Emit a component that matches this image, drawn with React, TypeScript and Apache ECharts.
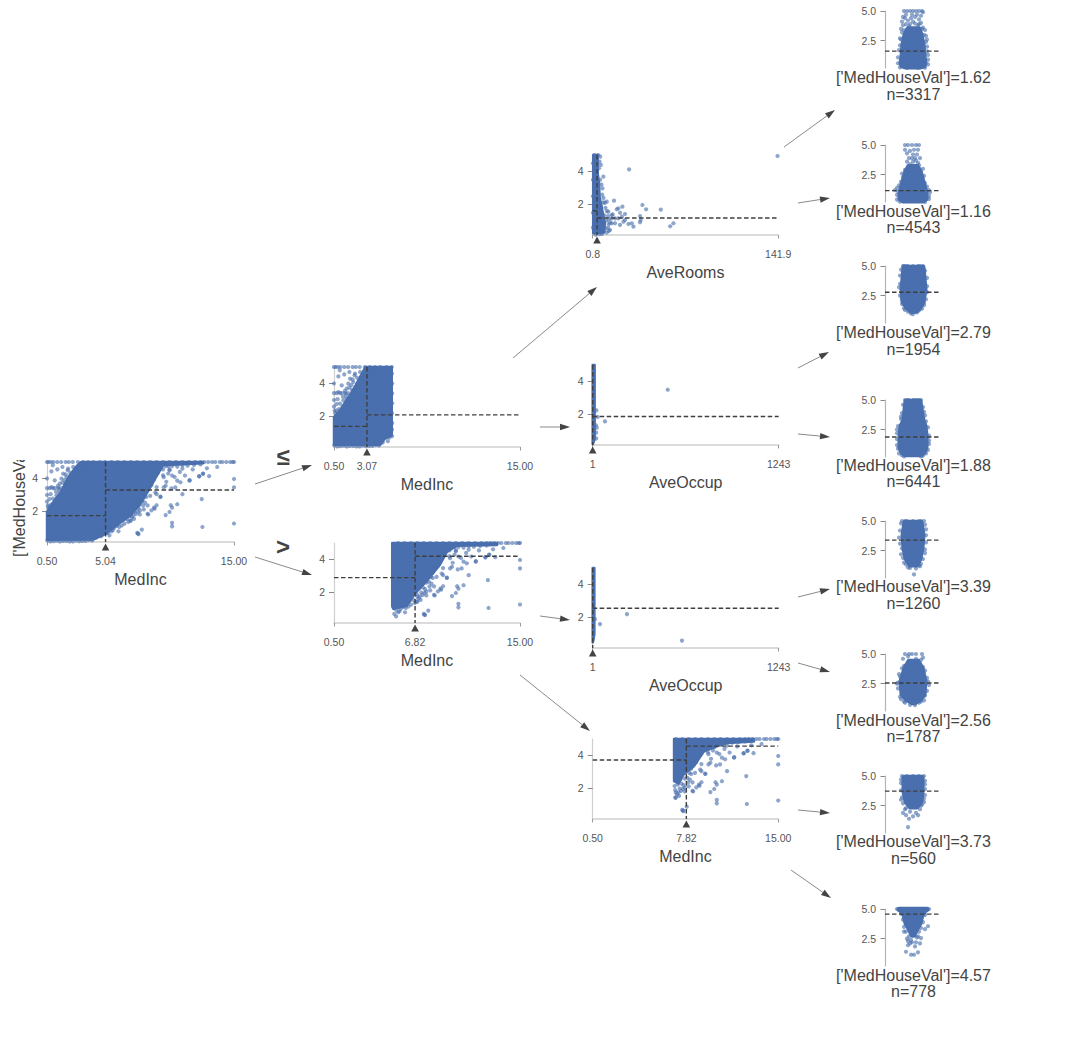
import React, { useEffect, useRef } from "react";
import * as echarts from "echarts";

const BLUE = "#4a6fae";
const DOT = "rgba(74,111,174,0.78)";
const FONT = '"Liberation Sans", Arial, sans-serif';

// ---- values ----
const topBandIncome = [0.5,0.62,0.8,1.0,1.3,1.6,1.95,2.2,2.5,2.9,3.3,3.7,4.1,4.6,5.0,5.5,6.0,6.5,7.0,7.5,8.0,8.5,9.0,9.5,10.0,10.5,11.0,11.5,12.0,12.4,12.7,13.0,13.3,13.55,13.9,14.1,14.4,14.7,14.9,15.0];
const lowIncomePoints = [[0.84,4.43],[1.75,4.29],[0.84,3.48],[1.1,3.89],[2.14,4.6],[2.53,4.7],[1.49,3.69],[1.62,3.99],[2.0,4.09],[1.23,2.98],[0.97,2.78],[0.71,2.37],[0.5,3.42],[0.71,3.42],[0.97,3.42],[1.36,3.42],[0.5,4.0],[0.5,3.0],[0.5,2.6],[0.78,3.05],[1.45,3.15],[1.9,3.6],[2.3,4.35],[2.6,4.35],[1.3,4.55],[1.7,4.7],[0.95,4.8],[2.95,4.6],[0.6,2.2],[0.9,2.45],[1.18,2.6],[1.1,3.42],[1.6,3.42]];
const upperEdgePoints = [[1.2,3.2],[1.35,3.55],[1.45,3.35],[1.7,3.75],[1.85,3.9],[1.55,3.05],[1.8,3.2],[2.05,3.5],[2.15,3.75],[2.3,3.95],[2.45,4.15],[2.65,4.1],[2.75,4.5],[2.85,4.25],[2.9,4.75],[3.05,4.85],[3.2,4.7],[2.1,4.5],[1.95,4.25],[1.2,2.3],[1.05,2.2],[0.8,2.15],[0.62,2.0],[1.4,2.7],[1.65,2.9],[0.55,2.35],[0.7,2.75],[3.25,4.45],[3.4,4.9],[3.6,4.6]];
const bottomEdgePoints = [[0.52,0.25],[0.75,0.19],[1,0.2],[1.25,0.23],[1.5,0.18],[1.75,0.22],[2,0.22],[2.25,0.19],[2.5,0.18],[2.75,0.24],[3,0.2],[3.25,0.22],[3.5,0.22],[3.75,0.27],[4,0.24],[4.45,0.7],[4.8,0.72],[5.02,0.8],[5.02,1.2],[5.04,1.6],[5.02,2.2],[5.04,2.8],[5.03,3.4],[5.04,4],[5.02,4.6]];
const lowerEdgePoints = [[5.2,0.7],[5.35,0.95],[5.5,0.8],[5.7,1.0],[6,1.25],[6.3,1.15],[6.4,1.5],[6.7,1.55],[6.95,1.9],[7.1,1.65],[7.3,2.0],[7.45,2.3],[7.7,2.6],[7.9,2.65],[8.05,2.95],[8.2,3.2],[8.4,3.45],[8.6,3.6],[8.75,3.9],[8.9,4.15],[9.1,4.35],[9.3,4.6],[9.5,4.55],[9.7,4.75],[9.9,4.75],[10.2,4.75],[10.6,4.72],[11,4.8],[11.4,4.78],[11.9,4.82],[12.4,4.85],[6.9,2.15],[7.0,1.75],[7.25,1.55],[7.4,1.85],[7.15,2.25],[7.6,2.2],[7.35,2.55],[6.95,1.45]];
const fringePoints = [[4.3,0.42],[4.7,0.5],[5.34,0.55],[6.04,0.8],[5.6,0.86],[6.1,1.06],[6.5,1.26],[6.8,1.36],[7.2,1.77],[7.55,1.97],[7.95,2.37],[8.3,2.37],[8.6,2.07],[8.85,2.17],[8.2,2.88],[9.0,3.48],[9.3,2.88],[9.5,4.2],[9.75,3.8],[9.9,4.3],[10.0,4.5],[10.4,4.09],[10.8,4.4],[11.0,4.6],[11.56,3.9],[12.3,4.13],[12.6,4.3],[7.5,0.7],[7.55,0.66],[5.9,1.12],[7.0,1.45],[7.7,2.05]];
const highIncomePoints = [[10.2,1.31],[10.2,1.1],[12.55,1.06],[15,1.27],[12.5,2.75],[15,3.46],[15,3.97],[11,3.05],[9.3,2.9],[10.6,2.44],[10.1,2.38],[10.2,2.23],[10,1.97],[9.7,1.78],[9,2.38],[8.8,2.23],[8.3,1.86],[8.35,1.82],[7.6,0.63],[7.85,0.9],[12.3,4.14],[12.6,4.28],[11.55,3.87],[10.85,3.77],[10.45,3.46],[10.15,3.4],[9.7,3.56],[9.55,3.46],[9,3.05],[8.5,2.95],[8.1,2.54],[8,2.13],[7.7,1.82],[8.9,3.15],[10.6,3.87],[9.55,4.08],[10.2,4.18],[11.2,4.18],[13.07,4.14],[10.0,4.55],[9.2,4.55],[11.8,4.55],[12.9,4.62],[13.7,4.7]];
const rootOutline = [[0.5,0.28],[4.07,0.3],[5.1,0.66],[5.88,1.16],[6.9,1.72],[7.7,2.4],[8.46,3.4],[9,4.15],[9.5,4.8],[12.6,4.92],[12.6,5],[3.16,5],[2.77,4.72],[2.26,4.2],[1.9,3.7],[1.6,3.2],[1.1,2.7],[0.5,1.97]];
const lowNodeOutline = [[0.5,0.28],[4.1,0.28],[4.48,0.66],[5.0,0.85],[5.0,5],[2.95,5],[2.6,4.5],[2.2,3.9],[1.75,3.3],[1.4,2.9],[1.0,2.4],[0.5,1.95]];
const highNodeOutline = [[5.04,5],[5.04,1.15],[5.13,1.0],[5.5,1.08],[6.17,1.2],[6.82,1.95],[7.73,2.7],[8.25,3.2],[8.77,3.7],[9.29,4.45],[10.07,4.84],[13.2,4.88],[13.2,5]];
const richNodeOutline = [[6.86,5],[6.86,2.45],[7.2,2.3],[7.6,2.85],[8.4,3.35],[9.2,4.25],[10.2,4.55],[11,4.75],[13.1,4.85],[13.1,5]];
const roomsOutline = [[1.2,5],[4.6,5],[4.6,3.89],[5.6,3.28],[6,2.48],[8,1.67],[10,0.86],[9.5,0.3],[1.2,0.25]];
const roomsPoints = [[28.5,4.13],[141.4,4.94],[52.6,1.69],[38.6,1.97],[41.4,1.71],[36.8,1.3],[37.3,1.06],[36.8,0.92],[62.2,0.86],[59.7,0.68],[31.8,0.66],[30.5,0.86],[28,0.82],[25.4,1.06],[24.2,0.96],[21.6,0.76],[17.8,0.86],[15.3,0.86],[23.4,1.87],[20.3,1.77],[19.1,1.71],[21.6,1.5],[25.4,1.42],[23,1.26],[17,2.23],[11.5,2.17],[8.9,2.13],[12.7,1.57],[15.3,1.36],[17.8,1.16],[20.3,1.16],[14,0.45],[11.5,0.3],[8.9,3.69],[8.2,2.98],[6.5,4.9],[7,4.4],[6,4.6],[6.5,3.5],[7.5,3.2],[8,2.6],[9,2.4],[10,2.1],[10.5,1.8],[11.5,1.6],[12.5,1.3],[13,1.1],[13,0.8],[12.5,0.6],[13,0.4],[14,0.9],[15,1.15],[16,1.4],[4,4.6],[5.6,4.2],[3,4.8],[5,5],[2,5],[1,4.5],[1,3.5],[1,2.5],[1,1.5],[1,0.6],[7,1.9],[9.5,1.35],[11,1.0],[10.5,0.55],[6,0.2],[3,0.17],[8,0.22]];
const occupLowOutline = [[1,5],[14,5],[14,0.5],[1,0.2]];
const occupLowPoints = [[502,3.5],[83,1.58],[34,1.85],[26,2.25],[22,1.35],[28,1.2],[24,0.9],[24,0.55]];
const occupHighOutline = [[1,5],[12,5],[12,1.0],[5,0.6],[1,0.5]];
const occupHighPoints = [[50,1.6],[230,2.2],[597,0.6],[16,1.9]];

const leafMeans = [1.62,1.16,2.79,1.88,3.39,2.56,3.73,4.57];
const leafCounts = [3317,4543,1954,6441,1260,1787,560,778];
const leafProfiles = [
  [[3.5,-5,6],[3.0,-8,8],[2.2,-10,10],[1.2,-11,11],[0.6,-12,12],[0.38,-11,11],[0.28,-7,7]],
  [[3.2,-4,4],[2.8,-7,7],[2.2,-9,9],[1.6,-11,11],[0.9,-13,13],[0.45,-13,13],[0.28,-10,10]],
  [[4.9,-9,10],[4,-10,11],[3,-11,12],[2,-10,10],[1.5,-6,7],[1.2,-2,3]],
  [[4.9,-7,7],[4.2,-8,8],[3.3,-9,10],[2.8,-12,12],[2,-13,13],[1,-13,13],[0.6,-11,11],[0.4,-8,8]],
  [[4.9,-8,8],[3.8,-10,10],[2.7,-9,9],[1.85,-7,7],[1.3,-3,4]],
  [[4.4,-4,5],[3.8,-8,9],[2.7,-12,12],[1.6,-11,11],[1.15,-6,7],[0.9,-1,2]],
  [[4.9,-9,9],[3.7,-9,9],[2.85,-7,8],[2.4,-3,4]],
  [[4.97,-14,14],[4.85,-12,12],[4.5,-9,9],[3.8,-7,7],[3.2,-3,3],[2.8,-1,1]],
];
const leafPoints = [
  [[-9,5],[-6,5],[-3,5],[0,5],[3,5],[6,5],[9,5],[10,4.9],[-7,4.7],[-1,4.7],[4,4.7],[8,4.6],[-8,4.4],[-2,4.4],[2,4.5],[6,4.3],[-11,4.1],[-5,4.2],[0,4.1],[8,4],[-10,3.8],[-3,3.9],[5,3.8],[10,3.6],[-12,3.5],[12,3.4],[-13,2.7],[13,2.4],[14,2],[15,1.3],[-7,3.9],[6,3.9],[-9,3.4],[9,3.5],[-11,3.2],[11,3],[-12,2.6],[13,2.9],[-13,2.1],[14,2.6],[-14,1.7],[14,1.6],[-15,1.1],[15,0.9],[-15,0.6],[15,0.5],[-13,0.25],[12,0.22],[-6,0.2],[5,0.2],[2,3.95],[-4,3.7],[-10,4.5]],
  [[-8,5],[-5,5],[-1,5],[3,5],[6,5],[-8,4.6],[-3,4.5],[1,4.6],[5,4.6],[-6,4.3],[0,4.2],[4,4.2],[-4,3.9],[-1,3.9],[2,3.9],[7,3.9],[-6,3.6],[0,3.6],[5,3.5],[-16,1.4],[-18,1.2],[17,1],[10,3],[-11,2.6],[-5,3.2],[6,3.3],[-8,2.9],[8,2.7],[-10,2.3],[11,2.4],[-12,1.9],[12,1.8],[-14,1.6],[14,1.5],[-15,1.1],[16,1.2],[-16,0.8],[16,0.7],[-16,0.4],[16,0.45],[-13,0.22],[12,0.2],[-3,3.4],[3,3.7]],
  [[-10,5],[-5,5],[0,5],[5,5],[10,5],[-13,3.5],[14,3.3],[-11,2.2],[11,1.9],[-8,1.3],[6,1.25],[0,0.95],[-9,5],[-12,4.7],[12,4.6],[-13,4.2],[14,4],[-14,3.2],[14,2.8],[-13,2.5],[13,2.2],[-11,1.8],[11,1.7],[-9,1.45],[9,1.4],[-5,1.15],[4,1.1],[-2,1],[7,5],[-7,5]],
  [[-8,5],[-4,5],[0,5],[4,5],[8,5],[-12,3.6],[12,3.7],[-16,2.2],[16,2],[-16,1.2],[16,1.3],[-11,0.35],[10,0.32],[-10,4.6],[10,4.4],[-11,3.9],[11,4],[-12,3.4],[13,3.2],[-15,2.8],[15,2.7],[-16,2.5],[-16,1.7],[16,1.6],[-15,0.9],[15,0.8],[-14,0.5],[13,0.5],[-9,0.25],[8,0.25],[-6,5],[6,5],[2,5]],
  [[-11,5],[-6,5],[0,5],[6,5],[11,5],[-14,3.6],[13,3.8],[-12,2.2],[12,2.3],[-9,1.5],[8,1.4],[-5,1.1],[3,1],[7,1.2],[1,0.5],[-12,4.8],[12,4.7],[-13,4.2],[13,4.3],[-13,3.1],[13,3.2],[-11,2.7],[12,2.6],[-10,1.9],[10,1.8],[-7,1.35],[6,1.25],[-3,1.05],[-8,5],[8,5]],
  [[-8,5],[-4,5],[-1,5],[3,5],[9,5],[10,4.7],[-5,4.8],[3,4.6],[-14,3.3],[-9,4],[10,3.9],[-16,2.5],[16,2.4],[-13,1.4],[12,1.5],[-8,0.9],[6,0.9],[-10,4.6],[8,4.5],[-11,3.8],[12,3.6],[-13,3.1],[14,3],[-15,2.6],[15,2.7],[-15,2.1],[14,1.9],[-12,1.2],[11,1.1],[-9,1],[8,1],[-3,0.72],[2,0.7]],
  [[-11,5],[-6,5],[0,5],[6,5],[11,5],[-12,4.4],[12,4.6],[12,3.4],[-12,3],[11,2.8],[-8,2.2],[8,2.5],[-10,1.9],[-3,2],[3,1.9],[-7,1.7],[0,1.6],[5,1.7],[-4,1.4],[-5,0.7],[-12,4.7],[12,4.3],[-12,3.8],[12,3.9],[-11,3.2],[11,3.1],[-10,2.7],[9,2.6],[-7,2.3],[7,2.2]],
  [[-16,5],[-12,5],[12,5],[16,5],[15,3.55],[12,3.3],[-9,3.1],[8,2.55],[-6,2.5],[-3,2.1],[2,1.85],[7,2.1],[-5,1.95],[3,2.2],[-7,1.4],[-2,1.15],[1,1.15],[5,1.35],[-2,2.4],[5,2.7],[-14,4.95],[-10,4.95],[-7,4.95],[7,4.95],[10,4.95],[14,4.95],[-12,4.6],[12,4.5],[-10,4.1],[10,3.9],[-9,3.5],[8,3.4],[-7,3.1],[6,3.1],[-4,2.7],[4,2.6],[-1,2.2],[-5,2.3]],
];

// ---- helpers ----
type Pt = number[];
const panels: any = { grid: [], xAxis: [], yAxis: [], series: [] };

const blobSeries = (i: number, outline: Pt[], edge = 2.5) => ({
  type: "custom", xAxisIndex: i, yAxisIndex: i, data: outline, silent: true, z: 2,
  renderItem: (p: any, api: any) => p.dataIndex !== 0 ? null : ({
    type: "polygon",
    shape: { points: outline.map((v) => api.coord(v)) },
    style: { fill: BLUE, stroke: BLUE, lineWidth: edge, lineJoin: "round" },
  }),
});
const dotSeries = (i: number, pts: Pt[]) => ({
  type: "scatter", xAxisIndex: i, yAxisIndex: i, data: pts, symbolSize: 4.2, silent: true, z: 3,
  clip: false, itemStyle: { color: DOT },
});
const guideSeries = (i: number, segs: Pt[]) => ({
  type: "custom", xAxisIndex: i, yAxisIndex: i, data: segs, silent: true, z: 5,
  encode: { x: [0, 2], y: [1, 3] },
  renderItem: (_: any, api: any) => {
    const a = api.coord([api.value(0), api.value(1)]);
    const b = api.coord([api.value(2), api.value(3)]);
    return { type: "line", shape: { x1: a[0], y1: a[1], x2: b[0], y2: b[1] },
      style: { stroke: "#3f3f3f", lineWidth: 1.4, lineDash: [4.5, 2.5], fill: null } };
  },
});
const wedgeSeries = (i: number, split: number, yBase: number) => ({
  type: "custom", xAxisIndex: i, yAxisIndex: i, data: [[split, yBase]], silent: true, z: 6,
  renderItem: (_: any, api: any) => {
    const c = api.coord([api.value(0), api.value(1)]);
    return { type: "polygon",
      shape: { points: [[c[0], c[1] + 1.5], [c[0] - 3.8, c[1] + 8.5], [c[0] + 3.8, c[1] + 8.5]] },
      style: { fill: "#444" } };
  },
});

function addPanel(cfg: any) {
  const i = panels.grid.length;
  panels.grid.push({ left: cfg.left, top: cfg.top, width: cfg.width, height: 80 });
  panels.xAxis.push({
    gridIndex: i, type: "value", min: cfg.xMin, max: cfg.xMax, name: cfg.title,
    nameLocation: "middle", nameGap: 29, nameTextStyle: { fontFamily: FONT, fontSize: 16, color: "#444" },
    splitLine: { show: false },
    axisLine: { show: true, onZero: false, lineStyle: { color: "#cfcfcf", width: 1.5 } },
    axisTick: { show: true, length: 3.5, customValues: [cfg.xMin, cfg.xMax], lineStyle: { color: "#999" } },
    axisLabel: { show: true, margin: 13, fontFamily: FONT, fontSize: 10.5, color: "#555", hideOverlap: false,
      customValues: cfg.xLabels, formatter: (v: number) => v.toFixed(cfg.xDigits), showMinLabel: true, showMaxLabel: true },
  });
  panels.yAxis.push({
    gridIndex: i, type: "value", min: 0.15, max: 5,
    splitLine: { show: false },
    axisLine: { show: true, onZero: false, lineStyle: { color: "#cfcfcf", width: 1.2 } },
    axisTick: { show: true, length: 5, customValues: [2, 4], lineStyle: { color: "#888" } },
    axisLabel: { show: true, margin: 9, fontFamily: FONT, fontSize: 10.5, color: "#555", customValues: [2, 4], formatter: (v: number) => String(v) },
  });
  const { split, leftMean, rightMean } = cfg;
  panels.series.push(
    blobSeries(i, cfg.outline), dotSeries(i, cfg.points),
    guideSeries(i, [
      [split, 5, split, 0.15],
      [cfg.xMin, leftMean, split, leftMean],
      [split, rightMean, cfg.xMax, rightMean],
    ]),
    wedgeSeries(i, split, 0.15),
  );
}

const bandPoints = topBandIncome.map((x) => [x, 5]);
const allIncome = [...bandPoints, ...lowIncomePoints, ...upperEdgePoints, ...bottomEdgePoints, ...lowerEdgePoints, ...fringePoints, ...highIncomePoints];

addPanel({ left: 47, top: 462, width: 187, title: "MedInc", xMin: 0.5, xMax: 15, xLabels: [0.5, 5.04, 15], xDigits: 2,
  outline: rootOutline, points: allIncome, split: 5.04, leftMean: 1.75, rightMean: 3.3 });
addPanel({ left: 334, top: 367, width: 186, title: "MedInc", xMin: 0.5, xMax: 15, xLabels: [0.5, 3.07, 15], xDigits: 2,
  outline: lowNodeOutline, points: allIncome.filter((p) => p[0] <= 5.04), split: 3.07, leftMean: 1.4, rightMean: 2.1 });
addPanel({ left: 334, top: 543, width: 186, title: "MedInc", xMin: 0.5, xMax: 15, xLabels: [0.5, 6.82, 15], xDigits: 2,
  outline: highNodeOutline, points: allIncome.filter((p) => p[0] > 5.04), split: 6.82, leftMean: 2.9, rightMean: 4.2 });
addPanel({ left: 592.7, top: 155, width: 185.5, title: "AveRooms", xMin: 0.8, xMax: 141.9, xLabels: [0.8, 141.9], xDigits: 1,
  outline: roomsOutline, points: roomsPoints, split: 4.1, leftMean: 1.62, rightMean: 1.18 });
addPanel({ left: 592.7, top: 365, width: 186, title: "AveOccup", xMin: 1, xMax: 1243, xLabels: [1, 1243], xDigits: 0,
  outline: occupLowOutline, points: occupLowPoints, split: 1, leftMean: 1.88, rightMean: 1.88 });
addPanel({ left: 592.7, top: 568, width: 186, title: "AveOccup", xMin: 1, xMax: 1243, xLabels: [1, 1243], xDigits: 0,
  outline: occupHighOutline, points: occupHighPoints, split: 1, leftMean: 2.56, rightMean: 2.56 });
addPanel({ left: 592.7, top: 739, width: 185.5, title: "MedInc", xMin: 0.5, xMax: 15, xLabels: [0.5, 7.82, 15], xDigits: 2,
  outline: richNodeOutline, points: allIncome.filter((p) => p[0] > 6.82), split: 7.82, leftMean: 3.73, rightMean: 4.57 });

const leafTops = [11, 145, 266, 400, 521, 654, 776, 909];
leafProfiles.forEach((prof, k) => {
  const i = panels.grid.length;
  panels.grid.push({ left: 885, top: leafTops[k], width: 54, height: 57 });
  panels.xAxis.push({ gridIndex: i, type: "value", min: -28, max: 26, show: false, splitLine: { show: false } });
  panels.yAxis.push({
    gridIndex: i, type: "value", min: 0.2, max: 5, splitLine: { show: false },
    axisLine: { show: true, onZero: false, lineStyle: { color: "#b5b5b5", width: 1.2 } },
    axisTick: { show: true, length: 4.5, customValues: [2.5, 5], lineStyle: { color: "#888" } },
    axisLabel: { show: true, margin: 9, fontFamily: FONT, fontSize: 10.5, color: "#555", customValues: [2.5, 5], formatter: (v: number) => v.toFixed(1) },
  });
  const outline = [...prof.map((r) => [r[1], r[0]]), ...prof.slice().reverse().map((r) => [r[2], r[0]])];
  panels.series.push(
    blobSeries(i, outline, 5), dotSeries(i, leafPoints[k]),
    guideSeries(i, [[-28, leafMeans[k], 26, leafMeans[k]]]),
  );
});

const arrows = [
  [255,484,312,465],[255,557,312,575],[513,358,597,287],[540,427,570,427],[540,616,570,620],[520,675,590,731],
  [784,147,835,110],[798,203,830,198],[798,368,829,352],[798,434,830,437],[798,597,830,589],[798,663,830,672],[798,810,830,813],[791,870,831,898],
];
const leafTextY = [[77,94],[211,227],[332,349],[465,481],[586,603],[720,736],[841,858],[975,991]];

function arrowGraphics() {
  const out: any[] = [];
  arrows.forEach(([x1, y1, x2, y2]) => {
    const a = Math.atan2(y2 - y1, x2 - x1), L = 10, W = 3.2;
    const bx = x2 - L * Math.cos(a), by = y2 - L * Math.sin(a);
    const nx = -Math.sin(a) * W, ny = Math.cos(a) * W;
    out.push({ type: "line", shape: { x1, y1, x2: bx, y2: by }, style: { stroke: "#8a8a8a", lineWidth: 1 } });
    out.push({ type: "polygon", shape: { points: [[x2, y2], [bx + nx, by + ny], [bx - nx, by - ny]] }, style: { fill: "#444" } });
  });
  return out;
}

export default function App() {
  const ref = useRef<HTMLDivElement>(null);
  useEffect(() => {
    const chart = echarts.init(ref.current!, null, { renderer: "svg" });
    const label = (text: string, x: number, y: number, size = 16, color = "#444", weight = "normal") => ({
      type: "text", x, y, style: { text, fontFamily: FONT, fontSize: size, fontWeight: weight, fill: color, align: "center", verticalAlign: "middle" },
    });
    const leafTexts: any[] = [];
    leafMeans.forEach((m, k) => {
      leafTexts.push(label(`['MedHouseVal']=${m.toFixed(2)}`, 913.5, leafTextY[k][0]));
      leafTexts.push(label(`n=${leafCounts[k]}`, 913.5, leafTextY[k][1]));
    });
    chart.setOption({
      animation: false,
      backgroundColor: "#fff",
      grid: panels.grid, xAxis: panels.xAxis, yAxis: panels.yAxis, series: panels.series,
      graphic: { elements: [
        ...arrowGraphics(),
        ...leafTexts,
        label("≤", 283, 456, 24, "#444", "bold"),
        label(">", 283, 546, 24, "#444", "bold"),
        { type: "text", x: 19, y: 557, rotation: Math.PI / 2,
          style: { text: "['MedHouseVal']", fontFamily: FONT, fontSize: 16, fill: "#444", align: "left", verticalAlign: "middle" } },
        { type: "rect", shape: { x: 8, y: 430, width: 24, height: 30 }, style: { fill: "#fff" }, z: 50 },
      ] },
    });
    return () => chart.dispose();
  }, []);
  return <div ref={ref} style={{ position: "absolute", left: 0, top: 0, width: 1080, height: 1044, background: "#fff" }} />;
}
